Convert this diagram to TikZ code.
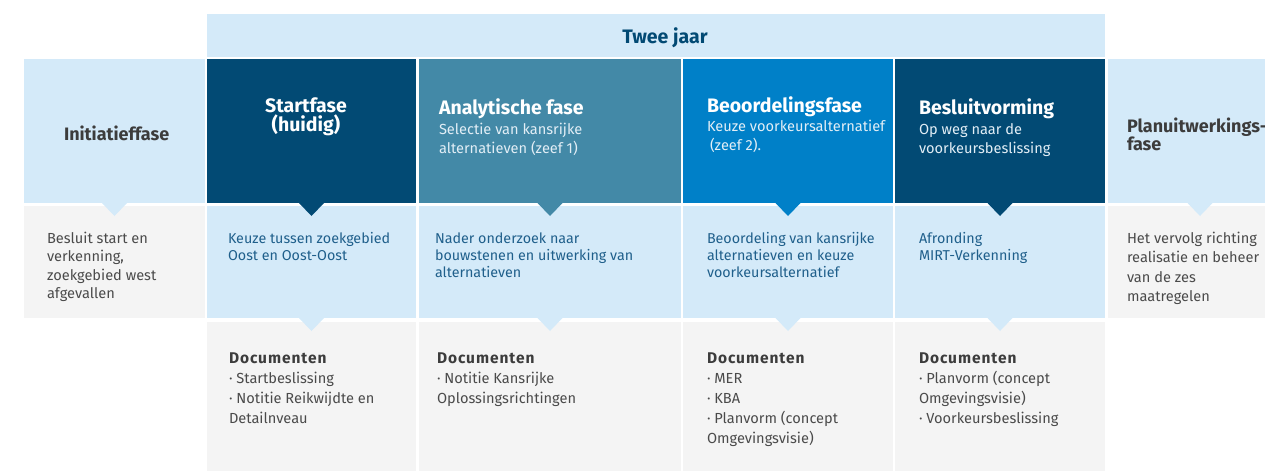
\documentclass[tikz,border=0pt]{standalone}
\usepackage{fontspec}
\setmainfont{Fira Sans}
\definecolor{lblue}{HTML}{D4EAF9}
\definecolor{lgray}{HTML}{F4F4F4}
\definecolor{navy}{HTML}{024A74}
\definecolor{teal}{HTML}{4389A7}
\definecolor{mblue}{HTML}{0080C8}
\definecolor{btext}{HTML}{1F5F8B}
\definecolor{gtext}{HTML}{4A4A4A}
\definecolor{htext}{HTML}{3C3C3C}
\definecolor{stext}{HTML}{E2EEF6}
\tikzset{
  cell/.style={anchor=north west, inner sep=0pt, outer sep=0pt, draw=none},
  txt/.style={anchor=base west, inner sep=0pt, outer sep=0pt},
  head/.style={txt, text=white, font=\fontsize{19.5}{20}\selectfont\bfseries},
}
\newcommand{\tb}[4]{\parbox[t]{#1}{\leavevmode\raggedright\fontsize{#2}{#3}\selectfont #4}}
\newcommand{\docs}{\textcolor{htext}{\fontsize{15.5}{20}\selectfont\bfseries\addfontfeatures{LetterSpace=6}Documenten}}
\begin{document}
\begin{tikzpicture}[x=1pt,y=-1pt]
\useasboundingbox (0,0) rectangle (1265,471);
% top bar
\node[cell, fill=lblue, minimum width=898pt, minimum height=43pt] (bar) at (207,14) {};
% row 1
\node[cell, fill=lblue, minimum width=181pt, minimum height=144pt] (h0) at (24,59) {};
\node[cell, fill=navy,  minimum width=209pt, minimum height=144pt] (h1) at (207,59) {};
\node[cell, fill=teal,  minimum width=262pt, minimum height=144pt] (h2) at (419,59) {};
\node[cell, fill=mblue, minimum width=210pt, minimum height=144pt] (h3) at (683,59) {};
\node[cell, fill=navy,  minimum width=210pt, minimum height=144pt] (h4) at (895,59) {};
\node[cell, fill=lblue, minimum width=160pt, minimum height=144pt] (h5) at (1108,59) {};
% row 2
\node[cell, fill=lgray, minimum width=181pt, minimum height=112pt] (d0) at (24,206) {};
\node[cell, fill=lblue, minimum width=209pt, minimum height=112pt] (d1) at (207,206) {};
\node[cell, fill=lblue, minimum width=262pt, minimum height=112pt] (d2) at (419,206) {};
\node[cell, fill=lblue, minimum width=210pt, minimum height=112pt] (d3) at (683,206) {};
\node[cell, fill=lblue, minimum width=210pt, minimum height=112pt] (d4) at (895,206) {};
\node[cell, fill=lgray, minimum width=160pt, minimum height=112pt] (d5) at (1108,206) {};
% row 3
\node[cell, fill=lgray, minimum width=209pt, minimum height=149pt] (r1) at (207,322) {};
\node[cell, fill=lgray, minimum width=262pt, minimum height=149pt] (r2) at (419,322) {};
\node[cell, fill=lgray, minimum width=210pt, minimum height=149pt] (r3) at (683,322) {};
\node[cell, fill=lgray, minimum width=210pt, minimum height=149pt] (r4) at (895,322) {};
% pointers row 1 -> row 2
\fill[lblue] (102,203) -- (127,203) -- (114.5,216) -- cycle;
\fill[navy]  (299,203) -- (324,203) -- (311.5,216) -- cycle;
\fill[teal]  (537.5,203) -- (562.5,203) -- (550,216) -- cycle;
\fill[mblue] (775.5,203) -- (800.5,203) -- (788,216) -- cycle;
\fill[navy]  (987.5,203) -- (1012.5,203) -- (1000,216) -- cycle;
\fill[lblue] (1187.5,203) -- (1212.5,203) -- (1200,216) -- cycle;
% pointers row 2 -> row 3
\fill[lblue] (299,318) -- (324,318) -- (311.5,331) -- cycle;
\fill[lblue] (537.5,318) -- (562.5,318) -- (550,331) -- cycle;
\fill[lblue] (775.5,318) -- (800.5,318) -- (788,331) -- cycle;
\fill[lblue] (987.5,318) -- (1012.5,318) -- (1000,331) -- cycle;
% top bar text
\node[anchor=base, inner sep=0pt, text=navy, font=\fontsize{19.5}{20}\selectfont\bfseries] (tj) at (665,43) {Twee jaar};
% headers
\node[txt, text=htext, font=\fontsize{18}{18}\selectfont\bfseries] (t0) at (64,140) {Initiatieffase};
\node[anchor=base, inner sep=0pt, text=white, align=center, font=\fontsize{19.5}{16}\selectfont\bfseries] (t1) at (306,131) {Startfase\\(huidig)};
\node[head] (t2) at (439,114) {Analytische fase};
\node[txt, text=stext] (s2) at (439,134) {\tb{250pt}{14.6}{19}{Selectie van kansrijke\\alternatieven (zeef 1)}};
\node[head] (t3) at (707,112) {Beoordelingsfase};
\node[txt, text=stext] (s3) at (707,131) {\tb{250pt}{14.6}{19}{Keuze voorkeursalternatief\\\hspace*{3pt}(zeef 2).}};
\node[head] (t4) at (919,114) {Besluitvorming};
\node[txt, text=stext] (s4) at (919,134) {\tb{250pt}{14.6}{19}{Op weg naar de\\voorkeursbeslissing}};
\node[txt, text=htext] (t5) at (1127,132) {\tb{250pt}{18}{15}{\bfseries Planuitwerkings-\\fase}};
% row 2 texts
\node[txt, text=gtext] (e0) at (47,243) {\tb{250pt}{14.6}{18.5}{Besluit start en\\verkenning,\\zoekgebied west\\afgevallen}};
\node[txt, text=btext] (e1) at (228,243) {\tb{250pt}{14.3}{17}{Keuze tussen zoekgebied\\Oost en Oost-Oost}};
\node[txt, text=btext] (e2) at (435,243) {\tb{250pt}{14.3}{17}{Nader onderzoek naar\\bouwstenen en uitwerking van\\alternatieven}};
\node[txt, text=btext] (e3) at (707,243) {\tb{250pt}{14.3}{17}{Beoordeling van kansrijke\\alternatieven en keuze\\voorkeursalternatief}};
\node[txt, text=btext] (e4) at (919,243) {\tb{250pt}{14.3}{17}{Afronding\\MIRT-Verkenning}};
\node[txt, text=gtext] (e5) at (1127,243) {\tb{250pt}{14.6}{19.6}{Het vervolg richting\\realisatie en beheer\\van de zes\\maatregelen}};
% row 3 texts
\node[txt, text=gtext] (f1) at (229,363) {\tb{250pt}{14.6}{20}{\docs\\· Startbeslissing\\· Notitie Reikwijdte en\\Detailnveau}};
\node[txt, text=gtext] (f2) at (437,363) {\tb{250pt}{14.6}{20}{\docs\\· Notitie Kansrijke\\Oplossingsrichtingen}};
\node[txt, text=gtext] (f3) at (707,363) {\tb{250pt}{14.6}{20}{\docs\\· MER\\· KBA\\· Planvorm (concept\\Omgevingsvisie)}};
\node[txt, text=gtext] (f4) at (919,363) {\tb{250pt}{14.6}{20}{\docs\\· Planvorm (concept\\Omgevingsvisie)\\· Voorkeursbeslissing}};
\end{tikzpicture}
\end{document}
